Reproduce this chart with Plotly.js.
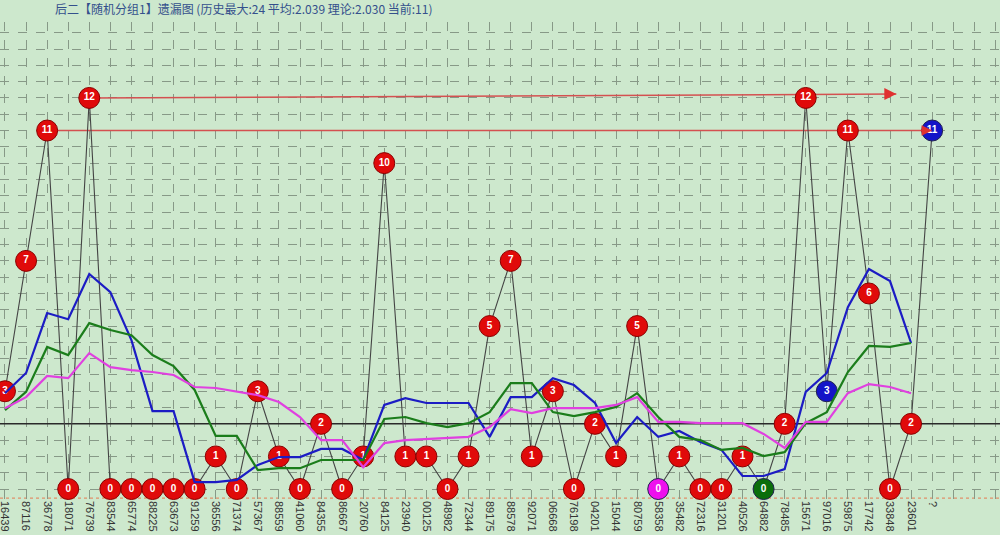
<!DOCTYPE html>
<html>
<head>
<meta charset="utf-8">
<script src="https://cdn.plot.ly/plotly-3.0.1.min.js"></script>
<style>html,body{margin:0;padding:0;background:#cde8cd;}#chart{width:1000px;height:535px;}</style>
</head>
<body>
<div id="chart"></div>
<script>
// Period labels (x axis)
const periods = ["16439","87116","36778","18071","76739","83544","65774","88225","63673","91259",
  "36556","71374","57367","88559","41060","84355","86667","20760","84125","23940",
  "00125","48982","72344","89175","88578","92071","06668","76198","04201","15044",
  "80759","58358","35482","72316","31201","40526","64882","78485","15671","97016",
  "59875","17742","33848","23601","?"];

// Omission values shown in the circles
const omission = [3,7,11,0,12,0,0,0,0,0,
  1,0,3,1,0,2,0,1,10,1,
  1,0,1,5,7,1,3,0,2,1,
  5,0,1,0,0,1,0,2,12,3,
  11,6,0,2,11];

// Special circle colours (index -> colour)
const specialIdx = [31, 36, 39, 44];
const specialColor = ["#ee10ee", "#0b6e0b", "#1414c8", "#1414c8"];

// Moving-average style lines
const blueLine = [2.94,3.56,5.40,5.21,6.60,6.04,4.57,2.39,2.39,0.21,
  0.21,0.28,0.74,0.98,0.98,1.23,1.23,0.89,2.58,2.79,
  2.64,2.64,2.64,1.60,2.82,2.82,3.40,3.19,2.64,1.41,
  2.21,1.60,1.78,1.44,1.20,0.40,0.40,0.61,2.98,3.56,
  5.58,6.75,6.38,4.48];
const greenLine = [2.42,2.98,4.36,4.11,5.09,4.88,4.72,4.11,3.77,3.04,
  1.63,1.63,0.58,0.64,0.64,0.89,0.89,0.89,2.15,2.21,
  2.02,1.90,2.02,2.36,3.25,3.25,2.36,2.24,2.36,2.52,
  2.94,2.21,1.60,1.50,1.20,1.26,1.01,1.13,2.02,2.36,
  3.59,4.39,4.36,4.48];
const magentaLine = [2.48,2.82,3.47,3.40,4.17,3.74,3.65,3.59,3.50,3.13,
  3.10,2.98,2.88,2.67,2.21,1.50,1.50,0.67,1.41,1.50,
  1.53,1.56,1.60,1.90,2.45,2.33,2.48,2.48,2.48,2.58,
  2.82,2.06,2.06,2.02,2.02,2.02,1.69,1.26,2.06,2.06,
  2.94,3.22,3.13,2.94];

const averageLevel = 2;          // black reference line
const arrowTipX = [42.3];        // where the 12-level arrow ends
const arrowTipY = [12.12];
const xRange = [-0.237, 47.22];
const yRange = [-0.337, 14.33];

const idx = periods.map((_, i) => i);
const colors = omission.map((v, i) => {
  const k = specialIdx.indexOf(i);
  return k >= 0 ? specialColor[k] : "#e00a0a";
});
const borders = colors.map(c => c === "#e00a0a" ? "#8a0000" : "#202050");

const first11 = omission.indexOf(11);
const first12 = omission.indexOf(12);
const lastIdx = omission.length - 1;

const traces = [
  { x: xRange, y: [averageLevel, averageLevel], mode: "lines", line: {color: "#2a2a2a", width: 1.5}, hoverinfo: "skip" },
  { x: [first11, lastIdx], y: [11, 11], mode: "lines", line: {color: "#d45050", width: 1.5}, hoverinfo: "skip" },
  { x: [first12, arrowTipX[0]], y: [12, arrowTipY[0]], mode: "lines", line: {color: "#d45050", width: 1.5}, hoverinfo: "skip" },
  { x: idx, y: omission, mode: "lines", line: {color: "#444444", width: 1.1}, hoverinfo: "skip" },
  { x: idx, y: omission, mode: "markers+text", text: omission.map(String),
    textposition: "middle center",
    textfont: {family: "Arial, Liberation Sans, sans-serif", size: 10, color: "#ffffff", weight: "bold"},
    marker: {size: 21, color: colors, line: {color: borders, width: 1}} },
  { x: idx.slice(0, blueLine.length), y: blueLine, mode: "lines", line: {color: "#1c1cc4", width: 2.2} },
  { x: idx.slice(0, greenLine.length), y: greenLine, mode: "lines", line: {color: "#1b7d1b", width: 2.2} },
  { x: idx.slice(0, magentaLine.length), y: magentaLine, mode: "lines", line: {color: "#e040e0", width: 2.2} }
];

const layout = {
  width: 1000, height: 535,
  margin: {l: 0, r: 0, t: 22, b: 35},
  paper_bgcolor: "#cde8cd", plot_bgcolor: "#cde8cd",
  showlegend: false,
  title: {
    text: "后二【随机分组1】遗漏图 (历史最大:24 平均:2.039 理论:2.030 当前:11)",
    x: 0.055, xanchor: "left", xref: "paper",
    y: 0.981, yanchor: "middle", yref: "container",
    font: {family: "Noto Sans CJK SC, sans-serif", size: 12, color: "#34508c"}
  },
  xaxis: {
    range: xRange,
    tickmode: "array", tickvals: idx, ticktext: periods,
    tickangle: 90, tickfont: {family: "Arial, Liberation Sans, sans-serif", size: 11, color: "#333333"},
    ticklabeloverflow: "allow",
    showgrid: false, zeroline: false, ticks: "", showline: false,
    minor: {tickmode: "linear", tick0: 0, dtick: 1, showgrid: true, gridcolor: "#879987", griddash: "dash", gridwidth: 1, ticks: ""}
  },
  yaxis: {
    range: yRange,
    showticklabels: false, ticks: "",
    tick0: 0, dtick: 0.5,
    showgrid: true, gridcolor: "#879987", griddash: "dash", gridwidth: 1,
    zeroline: false, showline: false
  },
  shapes: [
    {type: "line", xref: "paper", x0: 0, x1: 1, yref: "y", y0: -0.28, y1: -0.28,
     line: {color: "#e0906a", width: 1.2, dash: "dot"}, layer: "below"}
  ],
  annotations: [
    {x: arrowTipX[0], y: arrowTipY[0], ax: arrowTipX[0] - 0.6, ay: arrowTipY[0] - 0.002, axref: "x", ayref: "y",
     xref: "x", yref: "y", text: "", showarrow: true, arrowhead: 2, arrowsize: 1.6, arrowwidth: 1.5, arrowcolor: "#e03030"},
    {x: lastIdx, y: 11, ax: lastIdx - 0.6, ay: 11, axref: "x", ayref: "y",
     xref: "x", yref: "y", text: "", showarrow: true, arrowhead: 2, arrowsize: 1.4, arrowwidth: 1.5, arrowcolor: "#e03030"}
  ]
};

Plotly.newPlot("chart", traces, layout, {displayModeBar: false, staticPlot: true});
</script>
</body>
</html>
